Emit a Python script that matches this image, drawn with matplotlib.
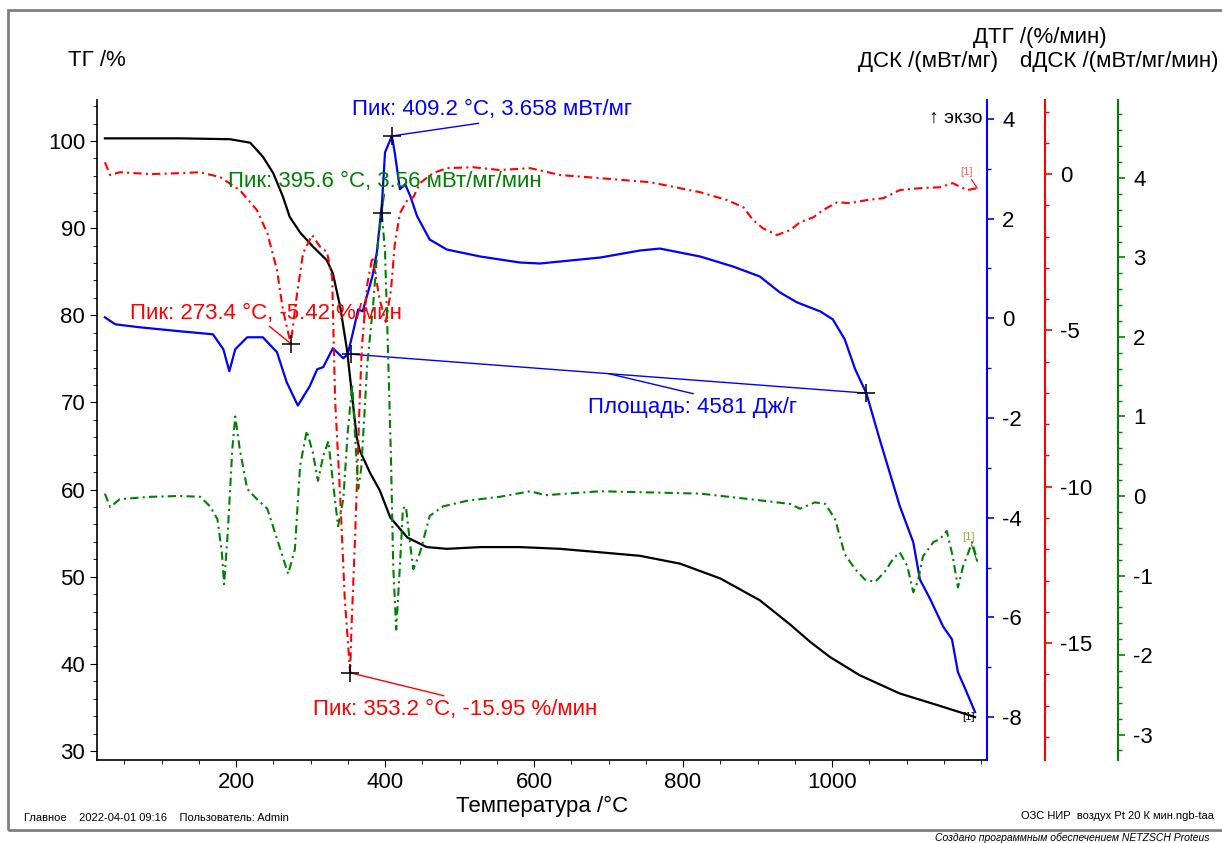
import matplotlib.pyplot as plt
from matplotlib.ticker import MultipleLocator, FixedLocator
from matplotlib.patches import Rectangle

# TG, %
tg_t = [24, 125, 192, 219, 236, 250, 263, 272, 286, 303, 322, 330, 340, 349, 356, 362, 366, 380, 393, 407,
        430, 456, 483, 528, 581, 635, 689, 742, 796, 850, 903, 944, 971, 997, 1037, 1091, 1144, 1192]
tg_v = [100.3, 100.3, 100.2, 99.8, 98.2, 96.3, 93.6, 91.3, 89.5, 87.9, 86.3, 84.8, 80.9, 76.0, 70.6, 66.0, 64.5,
        61.9, 59.9, 56.8, 54.5, 53.4, 53.2, 53.4, 53.4, 53.2, 52.8, 52.4, 51.5, 49.8, 47.3, 44.5, 42.5, 40.8,
        38.7, 36.6, 35.2, 33.9]

# DSC, mW/mg
dsc_t = [24, 38, 71, 125, 169, 183, 191, 199, 215, 236, 255, 268, 283, 299, 309, 317, 330, 344, 350, 357,
         364, 370, 383, 389, 396, 400, 409.2, 413, 420, 427, 434, 443, 460, 483, 528, 581, 608, 635, 689, 742,
         769, 823, 867, 903, 930, 953, 984, 1001, 1017, 1031, 1046, 1064, 1091, 1109, 1118, 1132, 1149, 1161,
         1169, 1179, 1192]
dsc_v = [0.02, -0.12, -0.18, -0.26, -0.32, -0.62, -1.06, -0.62, -0.38, -0.38, -0.68, -1.28, -1.75, -1.36,
         -1.02, -0.98, -0.60, -0.80, -0.72, -0.28, 0.18, 0.14, 0.84, 1.32, 2.33, 3.33, 3.658, 3.33, 2.59, 2.69,
         2.45, 2.05, 1.58, 1.38, 1.24, 1.12, 1.10, 1.14, 1.22, 1.36, 1.40, 1.24, 1.04, 0.84, 0.52, 0.32, 0.14,
         -0.02, -0.42, -1.02, -1.50, -2.43, -3.77, -4.49, -5.24, -5.64, -6.18, -6.44, -7.10, -7.44, -7.90]

# DTG, %/min
dtg_t = [24, 31, 44, 85, 125, 152, 179, 205, 228, 242, 255, 263, 273.4, 282, 290, 302, 313, 322, 329, 333,
         340, 346, 353.2, 355, 360, 366, 369, 376, 383, 393, 401, 408, 413, 420, 430, 438, 447, 464, 483, 518,
         554, 595, 635, 689, 756, 823, 859, 881, 894, 907, 926, 944, 957, 975, 988, 1007, 1024, 1047, 1069,
         1091, 1118, 1145, 1162, 1181, 1195]
dtg_v = [0.38, -0.03, 0.06, 0.0, 0.03, 0.06, -0.10, -0.51, -1.15, -1.89, -3.07, -4.35, -5.42, -3.81, -2.53,
         -1.95, -2.33, -2.49, -3.29, -7.23, -10.4, -13.6, -15.95, -14.5, -11.5, -7.23, -5.5, -3.55, -2.65,
         -4.03, -4.73, -3.71, -2.27, -1.25, -0.83, -0.74, -0.29, 0.03, 0.19, 0.22, 0.13, 0.19, -0.03, -0.13,
         -0.26, -0.58, -0.83, -1.06, -1.47, -1.73, -1.95, -1.79, -1.54, -1.38, -1.15, -0.90, -0.93, -0.83,
         -0.77, -0.51, -0.45, -0.42, -0.29, -0.51, -0.45]

# dDSC, mW/mg/min
ddsc_t = [24, 31, 44, 85, 125, 152, 165, 175, 181, 184, 189, 195, 199, 205, 215, 228, 242, 255, 270, 279,
          286, 295, 303, 310, 317, 324, 330, 337, 344, 350, 356, 360, 364, 368, 372, 376, 384, 391, 395.6, 400,
          404, 408, 411, 415, 420, 424, 428, 434, 438, 447, 460, 478, 510, 554, 595, 615, 689, 823, 890, 944,
          957, 977, 991, 1004, 1017, 1031, 1044, 1058, 1071, 1082, 1091, 1101, 1109, 1115, 1122, 1136, 1145,
          1154, 1162, 1169, 1176, 1183, 1188, 1192, 1195]
ddsc_v = [0.03, -0.14, -0.04, -0.01, 0.0, -0.01, -0.13, -0.29, -0.71, -1.11, -0.45, 0.59, 1.0, 0.59, 0.09,
          -0.04, -0.16, -0.54, -0.98, -0.67, 0.38, 0.82, 0.55, 0.19, 0.50, 0.69, 0.18, -0.38, -0.04, 0.81,
          1.4, 0.72, 0.09, 0.34, 0.97, 1.64, 2.40, 3.24, 3.56, 3.08, 1.82, 0.47, -0.88, -1.68, -0.88, -0.16,
          -0.13, -0.63, -0.92, -0.71, -0.25, -0.13, -0.06, -0.01, 0.06, 0.01, 0.06, 0.03, -0.04, -0.10, -0.16,
          -0.08, -0.10, -0.29, -0.73, -0.92, -1.05, -1.08, -0.95, -0.79, -0.71, -0.88, -1.21, -1.08, -0.76,
          -0.58, -0.54, -0.44, -0.76, -1.15, -0.88, -0.71, -0.58, -0.71, -0.83]

# evaluated points
dsc_peak = (409.2, 3.658)
dtg_peak1 = (273.4, -5.42)
dtg_peak2 = (353.2, -15.95)
ddsc_peak = (395.6, 3.56)
area_start = (355.0, -0.72)
area_end = (1045.6, -1.50)
area_value = 4581

x_ticks = [200, 400, 600, 800, 1000]

W, H = 1222, 843


def fp(x, y):
    # pixel position -> figure fraction
    return x / W, 1 - y / H


plt.rcParams['font.family'] = ['Liberation Sans', 'DejaVu Sans']
plt.rcParams['axes.unicode_minus'] = False
fs = 16
dashdot = (0, (4, 2, 1, 2))

fig = plt.figure(figsize=(W / 100, H / 100), dpi=100)
ax = fig.add_axes([97 / W, 1 - 760 / H, 890 / W, 660 / H])
ax_dsc = ax.twinx()
ax_dtg = ax.twinx()
ax_ddsc = ax.twinx()

# spines
ax.spines['top'].set_visible(False)
ax.spines['right'].set_visible(False)
for a, col, pos in [(ax_dsc, 'blue', 1.0), (ax_dtg, 'red', 948 / 890), (ax_ddsc, 'green', 1021 / 890)]:
    for s in ['top', 'left', 'bottom']:
        a.spines[s].set_visible(False)
    a.spines['right'].set_position(('axes', pos))
    a.spines['right'].set_color(col)
    a.spines['right'].set_linewidth(1.5)
    a.tick_params(axis='y', which='both', colors=col, labelcolor='black', labelsize=fs, direction='out')
    a.tick_params(axis='y', which='major', length=5, width=1.2, pad=6)
    a.tick_params(axis='y', which='minor', length=3, width=1)
ax.spines['left'].set_linewidth(1.2)
ax.spines['bottom'].set_linewidth(1.2)
ax.tick_params(which='both', direction='out', labelsize=fs)
ax.tick_params(which='major', length=5)
ax.tick_params(which='minor', length=3)

# limits / ticks
ax.set_xlim(13.4, 1208)
ax.xaxis.set_major_locator(FixedLocator(x_ticks))
ax.xaxis.set_minor_locator(MultipleLocator(50))
ax.set_ylim(28.97, 104.7)
ax.yaxis.set_major_locator(MultipleLocator(10))
ax.yaxis.set_minor_locator(MultipleLocator(2))
ax_dsc.set_ylim(-8.86, 4.38)
ax_dsc.yaxis.set_major_locator(MultipleLocator(2))
ax_dsc.yaxis.set_minor_locator(MultipleLocator(1))
ax_dtg.set_ylim(-18.74, 2.37)
ax_dtg.yaxis.set_major_locator(MultipleLocator(5))
ax_dtg.yaxis.set_minor_locator(MultipleLocator(1))
ax_ddsc.set_ylim(-3.32, 4.98)
ax_ddsc.yaxis.set_major_locator(MultipleLocator(1))
ax_ddsc.yaxis.set_minor_locator(MultipleLocator(0.2))

# curves
ax_ddsc.plot(ddsc_t, ddsc_v, color='green', lw=1.5, ls=dashdot)
ax_dtg.plot(dtg_t, dtg_v, color='red', lw=1.5, ls=dashdot)
ax_dsc.plot(dsc_t, dsc_v, color='blue', lw=1.6)
ax.plot(tg_t, tg_v, color='black', lw=1.6)

cross = dict(marker='+', color='black', ms=13, mew=1.1, ls='none', zorder=6)
arrow = dict(arrowstyle='-', lw=1, shrinkA=0, shrinkB=0)

# DSC peak
ax_dsc.plot(*dsc_peak, **cross)
ax_dsc.annotate(f'Пик: {dsc_peak[0]:.1f} °C, {dsc_peak[1]:.3f} мВт/мг', xy=dsc_peak,
                xytext=fp(352, 110), textcoords='figure fraction', ha='left', va='center',
                color='blue', fontsize=fs,
                arrowprops=dict(arrow, color='blue', relpos=(0.52, 0)))

# dDSC peak
ax_ddsc.plot(*ddsc_peak, **cross)
ax_ddsc.annotate(f'Пик: {ddsc_peak[0]:.1f} °C, {ddsc_peak[1]:.2f} мВт/мг/мин', xy=ddsc_peak,
                 xytext=fp(228, 181), textcoords='figure fraction', ha='left', va='center',
                 color='green', fontsize=fs,
                 arrowprops=dict(arrow, color='green', relpos=(0.5, 0)))

# DTG peaks
ax_dtg.plot(*dtg_peak1, **cross)
ax_dtg.annotate(f'Пик: {dtg_peak1[0]:.1f} °C, {dtg_peak1[1]:.2f} %/мин', xy=dtg_peak1,
                xytext=fp(130, 313), textcoords='figure fraction', ha='left', va='center',
                color='red', fontsize=fs,
                arrowprops=dict(arrow, color='red', relpos=(0.5, 0)))
ax_dtg.plot(*dtg_peak2, **cross)
ax_dtg.annotate(f'Пик: {dtg_peak2[0]:.1f} °C, {dtg_peak2[1]:.2f} %/мин', xy=dtg_peak2,
                xytext=fp(313, 709), textcoords='figure fraction', ha='left', va='center',
                color='red', fontsize=fs,
                arrowprops=dict(arrow, color='red', relpos=(0.5, 1)))

# DSC area
ax_dsc.plot([area_start[0], area_end[0]], [area_start[1], area_end[1]], color='blue', lw=1)
ax_dsc.plot([area_start[0], area_end[0]], [area_start[1], area_end[1]], **cross)
frac = 0.5
mid = (area_start[0] + frac * (area_end[0] - area_start[0]),
       area_start[1] + frac * (area_end[1] - area_start[1]))
ax_dsc.annotate(f'Площадь: {area_value} Дж/г', xy=mid,
                xytext=fp(588, 407), textcoords='figure fraction', ha='left', va='center',
                color='blue', fontsize=fs,
                arrowprops=dict(arrow, color='blue', relpos=(0.56, 1)))

# curve end markers
ax_dtg.annotate('[1]', xy=(dtg_t[-1], dtg_v[-1]), xytext=(-8, 12), textcoords='offset points',
                ha='center', va='center', color='#ff6060', fontsize=8,
                arrowprops=dict(arrow, color='red', lw=0.8))
ax_ddsc.annotate('[1]', xy=(ddsc_t[-1], ddsc_v[-1]), xytext=(-6, 18), textcoords='offset points',
                 ha='center', va='center', color='#a0a830', fontsize=8,
                 arrowprops=dict(arrow, color='green', lw=0.8))
ax.text(tg_t[-1], tg_v[-1], '[1]', ha='right', va='center', color='black', fontsize=8)

ax.text(0.935, 0.985, '↑ экзо', transform=ax.transAxes, ha='left', va='top', fontsize=14,
        clip_on=True)

# axis titles
ax.set_xlabel('Температура /°C', fontsize=fs, labelpad=2)
fig.text(*fp(68, 60), 'ТГ /%', ha='left', va='center', fontsize=fs)
fig.text(*fp(1040, 37), 'ДТГ /(%/мин)', ha='center', va='center', fontsize=fs)
fig.text(*fp(858, 62), 'ДСК /(мВт/мг)', ha='left', va='center', fontsize=fs)
fig.text(*fp(1218, 62), 'dДСК /(мВт/мг/мин)', ha='right', va='center', fontsize=fs)

# footer
fig.text(*fp(24, 818), 'Главное    2022-04-01 09:16    Пользователь: Admin', ha='left', va='center',
         fontsize=8)
fig.text(*fp(1214, 816), 'ОЗС НИР  воздух Pt 20 К мин.ngb-taa', ha='right', va='center', fontsize=8)
fig.text(*fp(935, 838), 'Создано программным обеспечением NETZSCH Proteus', ha='left', va='center',
         fontsize=7.5, style='italic')
fig.patches.append(Rectangle(fp(8, 830), 1240 / W, 820 / H, transform=fig.transFigure,
                             fill=False, edgecolor='#808080', lw=2))

fig.savefig('out.png', dpi=100)
